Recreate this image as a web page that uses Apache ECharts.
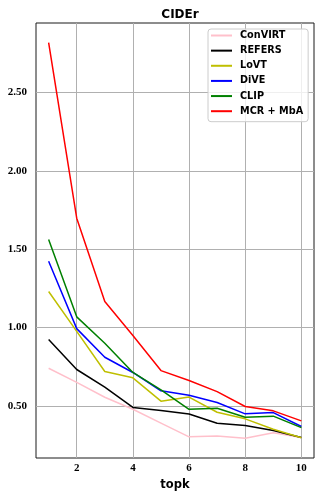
<!DOCTYPE html>
<html>
<head>
<meta charset="utf-8">
<script src="https://cdn.jsdelivr.net/npm/echarts@6/dist/echarts.min.js"></script>
<style>html,body{margin:0;padding:0;background:#fff}#c{width:321px;height:500px}</style>
</head>
<body>
<div id="c"></div>
<script>
var topk = [1, 2, 3, 4, 5, 6, 7, 8, 9, 10];
var convirt = [0.74, 0.65, 0.555, 0.478, 0.39, 0.302, 0.308, 0.293, 0.328, 0.298];
var refers  = [0.923, 0.732, 0.62, 0.49, 0.47, 0.448, 0.389, 0.374, 0.342, 0.298];
var lovt    = [1.23, 0.975, 0.719, 0.679, 0.53, 0.556, 0.459, 0.417, 0.351, 0.296];
var dive    = [1.423, 0.993, 0.81, 0.713, 0.596, 0.567, 0.521, 0.449, 0.457, 0.368];
var clip    = [1.562, 1.068, 0.9, 0.713, 0.602, 0.478, 0.485, 0.427, 0.434, 0.361];
var mcr     = [2.818, 1.698, 1.166, 0.949, 0.725, 0.662, 0.591, 0.496, 0.468, 0.404];
var names   = ['ConVIRT', 'REFERS', 'LoVT', 'DiVE', 'CLIP', 'MCR + MbA'];
var colors  = ['#ffc0cb', '#000000', '#bfbf00', '#0000ff', '#008000', '#ff0000'];
var xTicks  = [2, 4, 6, 8, 10];
var yTicks  = [0.5, 1.0, 1.5, 2.0, 2.5];

var all = [convirt, refers, lovt, dive, clip, mcr];
function pairs(arr){ return arr.map(function(v,i){ return [topk[i], v]; }); }
var series = all.map(function(arr, i){
  return {
    name: names[i], type: 'line', data: pairs(arr), symbol: 'none',
    color: colors[i], lineStyle: {width: 1.5, color: colors[i]}, z: 3 + i
  };
});

var chart = echarts.init(document.getElementById('c'), null, {renderer: 'canvas'});
chart.setOption({
  animation: false,
  backgroundColor: '#fff',
  title: {
    text: 'CIDEr', left: 175, top: 4, textAlign: 'center',
    textStyle: {fontFamily: 'DejaVu Sans', fontWeight: 'bold', fontSize: 12, color: '#000'}
  },
  legend: {
    orient: 'vertical', left: 208, top: 29,
    padding: [0, 5, 4, 3],
    itemWidth: 21, itemHeight: 2, itemGap: 2.14, icon: 'rect',
    backgroundColor: 'rgba(255,255,255,0.8)', borderColor: '#cccccc', borderWidth: 1, borderRadius: 3,
    textStyle: {fontFamily: 'DejaVu Sans', fontWeight: 'bold', fontSize: 9.7, color: '#000', lineHeight: 13, padding: [0,0,0,3]},
    data: names
  },
  grid: {
    left: 36, right: 7, top: 23, bottom: 42,
    show: true, borderColor: '#1a1a1a', borderWidth: 1, backgroundColor: 'transparent'
  },
  xAxis: {
    type: 'value', min: 0.55, max: 10.45,
    name: 'topk', nameLocation: 'middle', nameGap: 19,
    nameTextStyle: {fontFamily: 'DejaVu Sans', fontWeight: 'bold', fontSize: 11.5, color: '#000'},
    axisLine: {show: false},
    axisTick: {show: false, customValues: xTicks},
    axisLabel: {customValues: xTicks, margin: 5, fontFamily: 'Liberation Serif', fontWeight: 'bold', fontSize: 11, color: '#000'},
    splitLine: {show: true, lineStyle: {color: '#b0b0b0', width: 1}}
  },
  yAxis: {
    type: 'value', min: 0.167, max: 2.944,
    axisLine: {show: false},
    axisTick: {show: false, customValues: yTicks},
    axisLabel: {customValues: yTicks, margin: 9, fontFamily: 'Liberation Serif', fontWeight: 'bold', fontSize: 11, color: '#000',
      formatter: function(v){ return v.toFixed(2); }},
    splitLine: {show: true, lineStyle: {color: '#b0b0b0', width: 1}}
  },
  series: series
});
</script>
</body>
</html>
